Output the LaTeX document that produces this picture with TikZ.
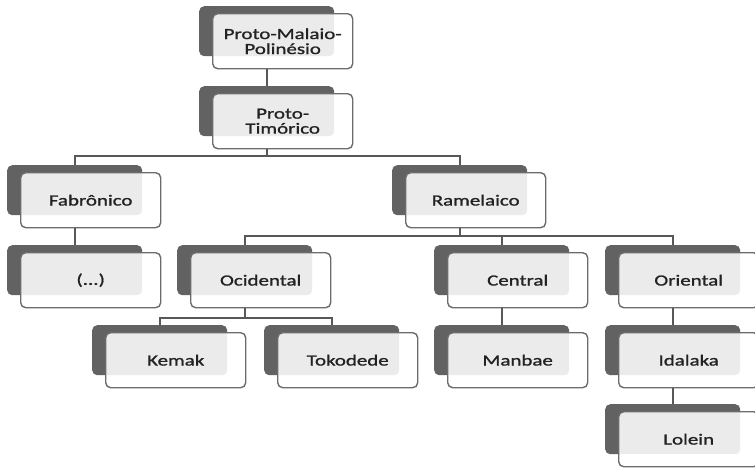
\documentclass[tikz,border=0pt]{standalone}
\usepackage{fontspec}
\newfontfamily\lblfont[FakeStretch=1.35,FakeBold=1.2]{Carlito}
\definecolor{backgray}{RGB}{98,98,98}
\definecolor{bordergray}{RGB}{108,108,108}
\definecolor{linegray}{RGB}{88,88,88}
\definecolor{textgray}{RGB}{34,34,34}
\newcommand\elem[4]{%
  \node[backbox] (#1b) at (#2-13,#3-7) {};
  \node[frontbox] (#1) at (#2,#3) {#4};}
\begin{document}
\begin{tikzpicture}[x=1pt,y=-1pt,
  backbox/.style={rectangle, fill=backgray, rounded corners=5pt, minimum width=135pt,
    minimum height=50pt, anchor=north west, inner sep=0pt},
  frontbox/.style={rectangle, draw=bordergray, line width=1.4pt, fill=white,
    fill opacity=0.88, text opacity=1, rounded corners=5pt, minimum width=140pt,
    minimum height=55pt, anchor=north west, inner sep=0pt,
    font=\lblfont\fontsize{15.5}{15}\selectfont, text=textgray, align=center},
  link/.style={draw=linegray, line width=1.8pt}]
\useasboundingbox (0,0) rectangle (755,467);
\fill[white] (0,0) rectangle (755,467);
\elem{pmp}{212}{13}{Proto-Malaio-\\Polinésio}
\elem{pt}{212}{93}{Proto-\\Timórico}
\elem{fab}{20}{172}{Fabrônico}
\elem{etc}{20}{252}{(...)}
\elem{ram}{405}{172}{Ramelaico}
\elem{oci}{190}{252}{Ocidental}
\elem{cen}{447}{252}{Central}
\elem{ori}{618}{252}{Oriental}
\elem{kem}{105}{332}{Kemak}
\elem{tok}{277}{332}{Tokodede}
\elem{man}{447}{332}{Manbae}
\elem{ida}{618}{332}{Idalaka}
\elem{lol}{618}{411}{Lolein}
\coordinate (bus1) at (0,156);
\coordinate (bus2) at (0,236);
\coordinate (bus3) at (0,318);
\draw[link] (pmpb.south |- pmp.south) -- (ptb.north);
\draw[link] (ptb.south |- pt.south) -- (ptb.south |- bus1) -| (fabb.north);
\draw[link] (ptb.south |- bus1) -| (ramb.north);
\draw[link] (fabb.south |- fab.south) -- (etcb.north);
\draw[link] (ramb.south |- ram.south) -- (ramb.south |- bus2) -| (ocib.north);
\draw[link] (ramb.south |- bus2) -| (cenb.north);
\draw[link] (ramb.south |- bus2) -| (orib.north);
\draw[link] (ocib.south |- oci.south) -- (ocib.south |- bus3) -| (kemb.north);
\draw[link] (ocib.south |- bus3) -| (tokb.north);
\draw[link] (cenb.south |- cen.south) -- (manb.north);
\draw[link] (orib.south |- ori.south) -- (idab.north);
\draw[link] (idab.south |- ida.south) -- (lolb.north);
\end{tikzpicture}
\end{document}
